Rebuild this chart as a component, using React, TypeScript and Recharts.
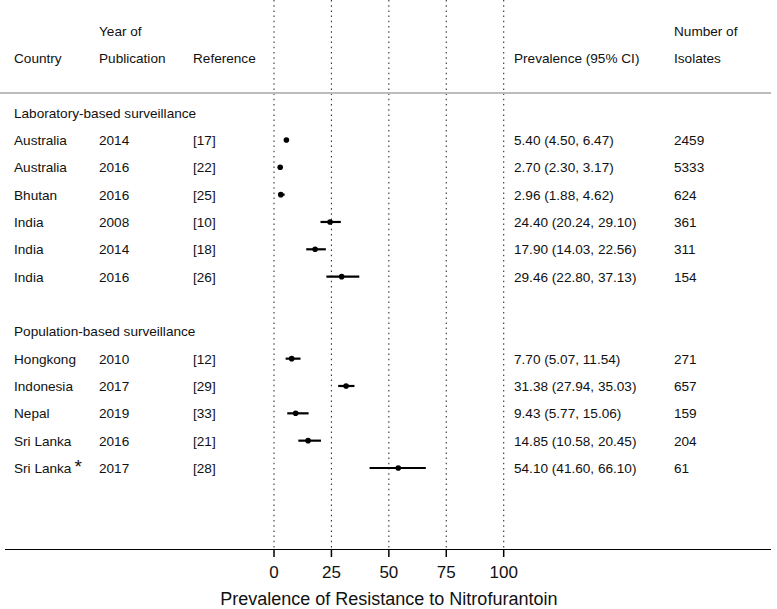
import React from "react";
import { CartesianGrid, ErrorBar, Scatter, ScatterChart, XAxis, YAxis } from "recharts";

const countries = [
  "Australia", "Australia", "Bhutan", "India", "India", "India",
  "Hongkong", "Indonesia", "Nepal", "Sri Lanka", "Sri Lanka",
];
const years = ["2014", "2016", "2016", "2008", "2014", "2016", "2010", "2017", "2019", "2016", "2017"];
const references = ["[17]", "[22]", "[25]", "[10]", "[18]", "[26]", "[12]", "[29]", "[33]", "[21]", "[28]"];
const prevalence = [5.4, 2.7, 2.96, 24.4, 17.9, 29.46, 7.7, 31.38, 9.43, 14.85, 54.1];
const ciLow = [4.5, 2.3, 1.88, 20.24, 14.03, 22.8, 5.07, 27.94, 5.77, 10.58, 41.6];
const ciHigh = [6.47, 3.17, 4.62, 29.1, 22.56, 37.13, 11.54, 35.03, 15.06, 20.45, 66.1];
const isolates = ["2459", "5333", "624", "361", "311", "154", "271", "657", "159", "204", "61"];
const groupNames = ["Laboratory-based surveillance", "Population-based surveillance"];
const studyGroup = [0, 0, 0, 0, 0, 0, 1, 1, 1, 1, 1];
const markedStudies = [10];
const xTicks = [0, 25, 50, 75, 100];
const xTitle = "Prevalence of Resistance to Nitrofurantoin";

const FONT = "'Liberation Sans', Arial, Helvetica, sans-serif";
const TEXT = "#111";
const fs = 13.6;

type Row = { kind: "head1" | "head2" | "group" | "study"; idx: number; slot: number };

// header lines sit above the first group, then each group: title, studies, a blank slot
const rows: Row[] = [
  { kind: "head1", idx: 0, slot: -3 },
  { kind: "head2", idx: 0, slot: -2 },
];
let slot = 0;
groupNames.forEach((_, gi) => {
  rows.push({ kind: "group", idx: gi, slot: slot++ });
  studyGroup.forEach((g, i) => {
    if (g === gi) rows.push({ kind: "study", idx: i, slot: slot++ });
  });
  slot++;
});
const rowBySlot = new Map(rows.map((r) => [r.slot, r]));
const slotTicks = rows.map((r) => r.slot);

const points = rows
  .filter((r) => r.kind === "study")
  .map((r) => ({
    x: prevalence[r.idx],
    y: r.slot,
    err: [prevalence[r.idx] - ciLow[r.idx], ciHigh[r.idx] - prevalence[r.idx]],
  }));

const txt = (x: number, y: number, s: React.ReactNode, key: string) => (
  <text key={key} x={x} y={y} dy="0.37em" fontSize={fs} fontFamily={FONT} fill={TEXT}>
    {s}
  </text>
);

// one tick per table row: draws every text column at that row's y
function RowTick(props: any) {
  const { y, payload } = props;
  const row = rowBySlot.get(payload.value);
  if (!row) return null;
  if (row.kind === "head1")
    return (
      <g>
        {txt(99, y, "Year of", "a")}
        {txt(674, y, "Number of", "b")}
      </g>
    );
  if (row.kind === "head2")
    return (
      <g>
        {txt(14, y, "Country", "a")}
        {txt(99, y, "Publication", "b")}
        {txt(193, y, "Reference", "c")}
        {txt(514, y, "Prevalence (95% CI)", "d")}
        {txt(674, y, "Isolates", "e")}
      </g>
    );
  if (row.kind === "group") return <g>{txt(14, y, groupNames[row.idx], "a")}</g>;
  const i = row.idx;
  const marked = markedStudies.includes(i);
  const label = `${prevalence[i].toFixed(2)} (${ciLow[i].toFixed(2)}, ${ciHigh[i].toFixed(2)})`;
  return (
    <g>
      {txt(
        14,
        y,
        <>
          {countries[i]}
          {marked ? <tspan fontSize={19} dx={3}>*</tspan> : null}
        </>,
        "a",
      )}
      {txt(99, y, years[i], "b")}
      {txt(193, y, references[i], "c")}
      {txt(514, y, label, "d")}
      {txt(674, y, isolates[i], "e")}
    </g>
  );
}

export default function App() {
  return (
    <div style={{ position: "absolute", left: 0, top: 0, width: 777, height: 609, background: "#fff" }}>
      <ScatterChart width={777} height={609} margin={{ top: 0, right: 273.3, bottom: 0, left: 0 }}>
        <CartesianGrid horizontal={false} vertical stroke="#333" strokeWidth={1.1} strokeDasharray="1.5 3.7" />
        <XAxis
          type="number"
          dataKey="x"
          domain={[0, 100]}
          ticks={xTicks}
          height={59}
          axisLine={false}
          tickLine={{ stroke: "#000", strokeWidth: 1.5 }}
          tickSize={7}
          tickMargin={9}
          tick={{ fontSize: 17, fill: TEXT, fontFamily: FONT }}
          label={{ value: xTitle, position: "insideBottom", offset: 4, fontSize: 18, fill: TEXT, fontFamily: FONT }}
        />
        <YAxis
          type="number"
          dataKey="y"
          domain={[-4.12, 16]}
          reversed
          ticks={slotTicks}
          interval={0}
          width={274}
          axisLine={false}
          tickLine={false}
          tick={RowTick}
        />
        <Scatter
          data={points}
          isAnimationActive={false}
          shape={(p: any) => <circle cx={p.cx} cy={p.cy} r={2.8} fill="#000" />}
        >
          <ErrorBar dataKey="err" direction="x" width={0} stroke="#000" strokeWidth={2.2} />
        </Scatter>
      </ScatterChart>
      <div style={{ position: "absolute", left: 0, top: 92, width: 771, height: 1.5, background: "#bcbcbc" }} />
      <div style={{ position: "absolute", left: 5, top: 548.5, width: 766, height: 1.5, background: "#000" }} />
    </div>
  );
}
